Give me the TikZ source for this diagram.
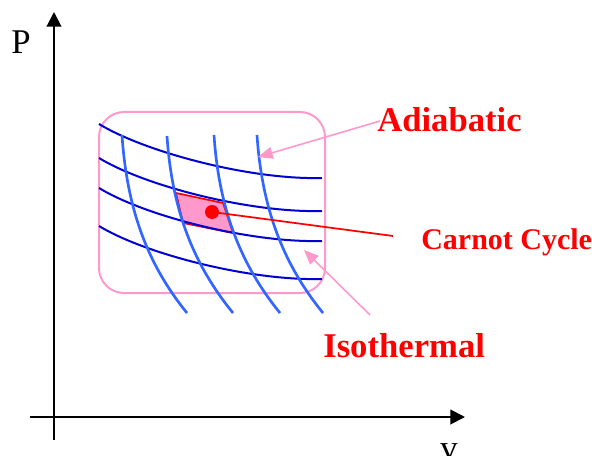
\documentclass[tikz,border=0pt]{standalone}
\usepackage{fontspec}
\setmainfont{Liberation Serif}
\usetikzlibrary{arrows.meta}
\definecolor{pinkline}{RGB}{255,153,204}
\definecolor{isoblue}{RGB}{0,0,210}
\definecolor{adiblue}{RGB}{51,102,255}
\tikzset{
  axisline/.style={line width=1.5pt,-{Triangle[length=11pt,width=11pt]}},
  isotherm/.style={isoblue,line width=1.5pt},
  adiabat/.style={adiblue,line width=2pt},
  pointer/.style={pinkline,line width=1.2pt,-{Triangle[length=11pt,width=9pt]}},
  bigred/.style={red,font=\bfseries\fontsize{26}{30}\selectfont,inner sep=0pt,anchor=base west},
}
\begin{document}
\begin{tikzpicture}[x=0.75pt,y=-0.75pt]
\useasboundingbox (0,0) rectangle (592,456);
% axes
\coordinate (origB) at (54,440);
\coordinate (ptop) at (54,12);
\coordinate (xl) at (30,417);
\coordinate (xr) at (465,417);
\draw[axisline] (origB) -- (ptop);
\draw[axisline] (xl) -- (xr);
\node[font=\fontsize{26}{30}\selectfont,inner sep=0pt] (plab) at (21,42) {P};
\node[font=\fontsize{26}{30}\selectfont,inner sep=0pt,anchor=base] (vlab) at (449,459) {v};
% frame
\draw[pinkline,line width=1.5pt,rounded corners=18.75pt] (99,112) rectangle (325,293);
% carnot cycle region
\draw[red,line width=1.3pt,fill=pinkline] (176,193) -- (223,203) -- (233,233) -- (183,223) -- cycle;
% isotherms
\draw[isotherm] (99,124) .. controls (145,152) and (250,180) .. (322,178);
\draw[isotherm] (99,158) .. controls (145,186) and (250,213) .. (322,211);
\draw[isotherm] (99,188) .. controls (145,216) and (250,243) .. (322,241);
\draw[isotherm] (99,226) .. controls (145,254) and (250,281) .. (322,279);
% adiabats
\draw[adiabat] (122,135) .. controls (127,210) and (148,265) .. (187,313);
\draw[adiabat] (167,136) .. controls (172,211) and (194,265) .. (233,313);
\draw[adiabat] (214,135) .. controls (219,210) and (241,265) .. (280,313);
\draw[adiabat] (257,135) .. controls (262,210) and (284,265) .. (323,313);
% carnot dot and label
\node[circle,fill=red,minimum size=10.5pt,inner sep=0pt] (dot) at (212,212) {};
\node[red,font=\bfseries\fontsize{22.5}{26}\selectfont,inner sep=0pt,anchor=base west] (carnot) at (421,249) {Carnot Cycle};
\coordinate (cend) at (393,236);
\draw[red,line width=1.3pt] (dot.center) -- (cend);
% labels and pointers
\node[bigred] (adiab) at (377,132) {Adiabatic};
\node[bigred] (isoth) at (323,357) {Isothermal};
\coordinate (astart) at (380,121);
\coordinate (atip) at (258,157);
\coordinate (istart) at (370,315);
\coordinate (itip) at (304,250);
\draw[pointer] (astart) -- (atip);
\draw[pointer] (istart) -- (itip);
\end{tikzpicture}
\end{document}
